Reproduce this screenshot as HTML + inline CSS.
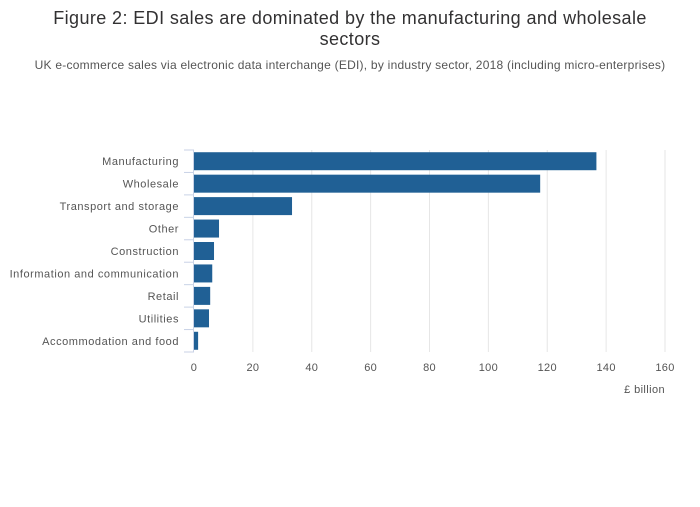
<!DOCTYPE html>
<html><head><meta charset="utf-8"><style>
body{margin:0;background:#fff;font-family:"Liberation Sans",sans-serif}
</style></head><body>
<svg width="700" height="502" xmlns="http://www.w3.org/2000/svg">
<text x="350" y="24" text-anchor="middle" font-size="18" letter-spacing="0.4" fill="#323132">Figure 2: EDI sales are dominated by the manufacturing and wholesale</text>
<text x="350" y="45" text-anchor="middle" font-size="18" letter-spacing="0.4" fill="#323132">sectors</text>
<text x="350" y="69" text-anchor="middle" font-size="12" letter-spacing="0.24" fill="#555">UK e-commerce sales via electronic data interchange (EDI), by industry sector, 2018 (including micro-enterprises)</text>
<g id="grid"></g><g id="bars"></g><g id="axes"></g>
<text x="665" y="393" text-anchor="end" font-size="11" letter-spacing="0.4" fill="#555">£ billion</text>
</svg>
<script>
const categories=["Manufacturing","Wholesale","Transport and storage","Other","Construction","Information and communication","Retail","Utilities","Accommodation and food"];
const values=[136.7,117.6,33.3,8.5,6.8,6.2,5.5,5.1,1.4];
const ticks=[0,20,40,60,80,100,120,140,160];
const NS="http://www.w3.org/2000/svg";
const x0=194,x1=665,yTop=150,yBot=352;
const xs=v=>x0+(x1-x0)*v/160;
const band=(yBot-yTop)/categories.length;
function mk(t,a,p){const e=document.createElementNS(NS,t);for(const k in a)e.setAttribute(k,a[k]);p.appendChild(e);return e;}
const grid=document.getElementById('grid'),bars=document.getElementById('bars'),axes=document.getElementById('axes');
ticks.forEach(t=>{
 if(t>0){const g=mk('line',{x1:xs(t),x2:xs(t),y1:yTop,y2:yBot,stroke:'#e6e6e6','stroke-width':1},grid);
 
 }
 const l=mk('text',{x:xs(t),y:371,'text-anchor':'middle','font-size':11,'letter-spacing':0.3,fill:'#555'},axes);l.textContent=t;
 
 
});
const ax=mk('line',{x1:193.5,x2:193.5,y1:yTop,y2:yBot,stroke:'#c8d2e6','stroke-width':1},axes);


for(let i=0;i<=categories.length;i++){const y=yTop+band*i;
 const tk=mk('line',{x1:184,x2:194,y1:y,y2:y,stroke:'#c8d2e6','stroke-width':1},axes);
 
 }
categories.forEach((c,i)=>{
 const yc=yTop+band*(i+0.5);
 const r=mk('rect',{x:x0,y:yc-9,width:xs(values[i])-x0,height:18,fill:'#206095'},bars);
 
 
 const l=mk('text',{x:179,y:yc+4,'text-anchor':'end','font-size':11,'letter-spacing':0.55,fill:'#555'},axes);l.textContent=c;
 
 
});
</script>
</body></html>
